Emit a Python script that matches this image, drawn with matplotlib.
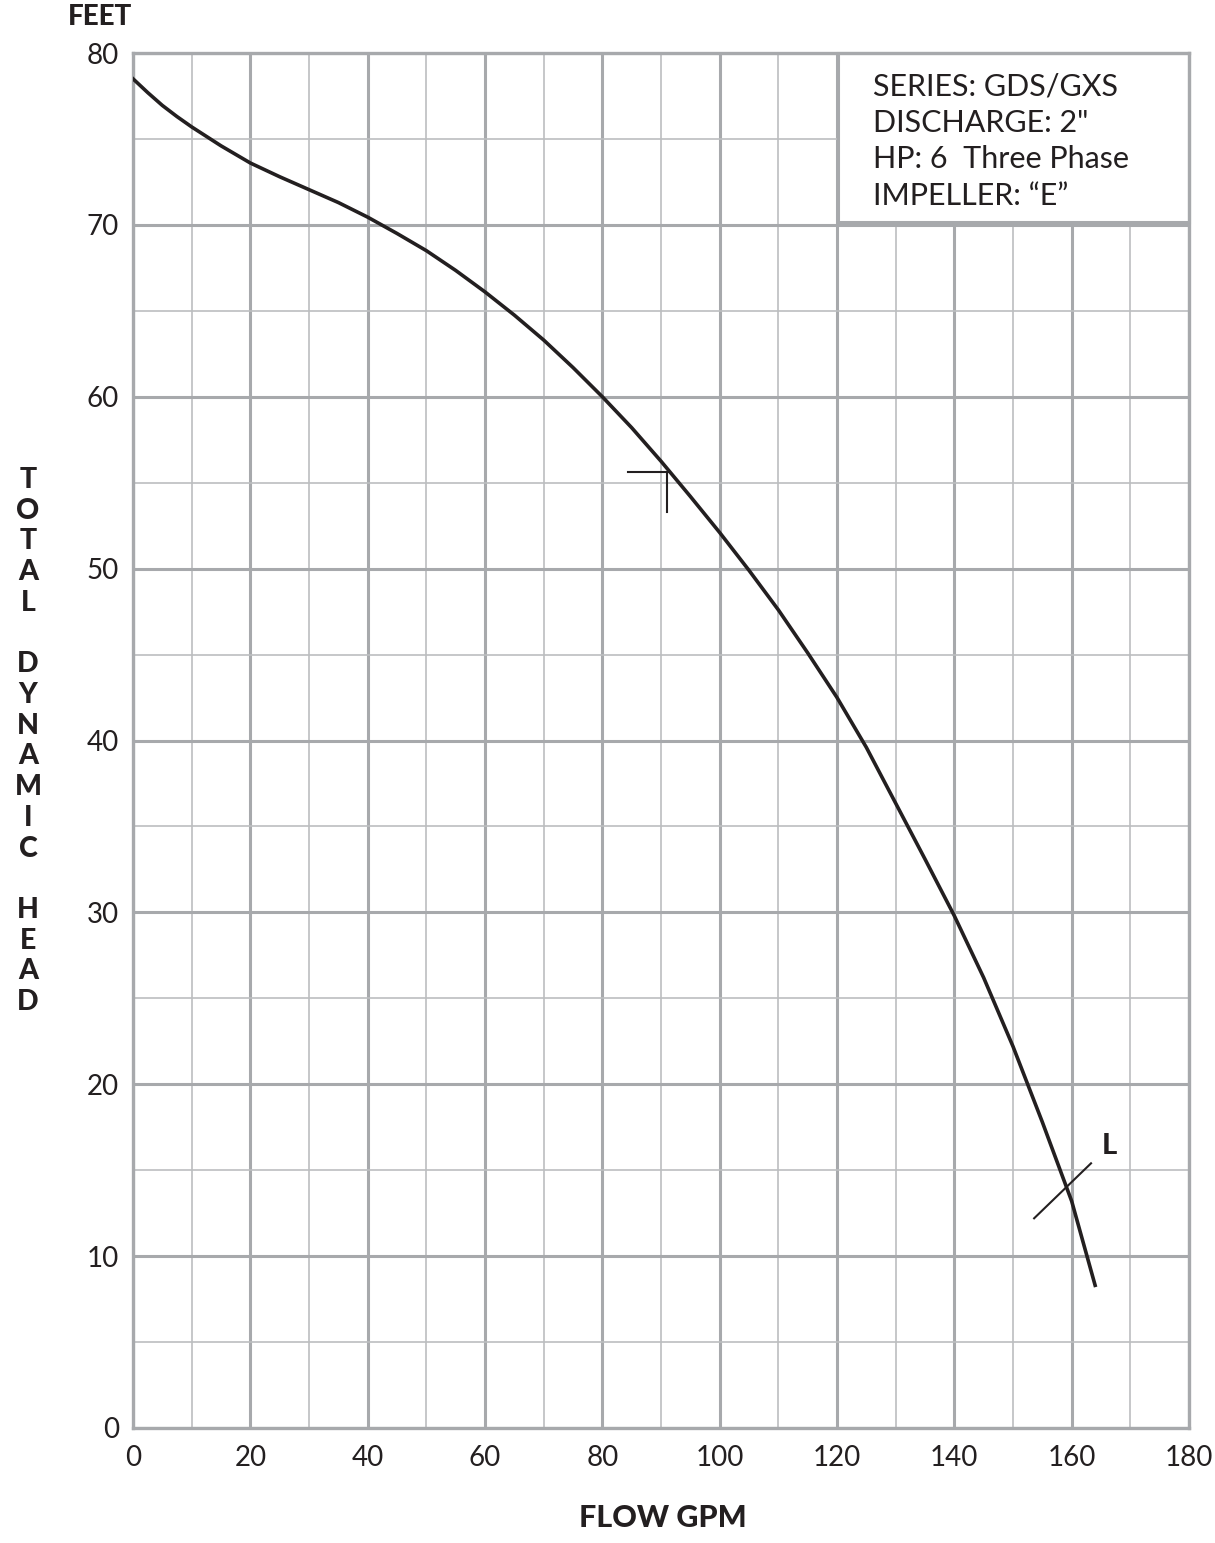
import matplotlib
matplotlib.use("Agg")
import matplotlib.pyplot as plt
from matplotlib.patches import Rectangle

plt.rcParams['font.family'] = ['Lato', 'DejaVu Sans']

# ---- data ----
flow_gpm = [0, 2.5, 5, 7.5, 10, 15, 20, 25, 30, 35, 40, 45, 50, 55, 60, 65, 70, 75, 80,
            85, 90, 95, 100, 105, 110, 115, 120, 125, 130, 135, 140, 145, 150,
            155, 160, 164]
head_ft = [78.5, 77.7, 76.95, 76.3, 75.7, 74.6, 73.6, 72.8, 72.05, 71.3, 70.45, 69.5,
           68.5, 67.35, 66.1, 64.75, 63.3, 61.7, 60.0, 58.2, 56.25, 54.2, 52.1, 49.9,
           47.6, 45.1, 42.5, 39.6, 36.35, 33.1, 29.8, 26.2, 22.2, 17.8, 13.2, 8.3]

x_ticks = [0, 20, 40, 60, 80, 100, 120, 140, 160, 180]
y_ticks = [0, 10, 20, 30, 40, 50, 60, 70, 80]

# best efficiency marker (T) and L marker
bep_h_x = [84.4, 91.2]
bep_h_y = [55.6, 55.6]
bep_v_x = [91.1, 91.1]
bep_v_y = [55.6, 53.3]
l_x = [153.6, 163.3]
l_y = [12.2, 15.4]

info_lines = ['SERIES: GDS/GXS', 'DISCHARGE: 2"', 'HP: 6  Three Phase', 'IMPELLER: \u201cE\u201d']
y_label = 'TOTAL DYNAMIC HEAD'

GRID_MAJ = '#a7a9ac'
GRID_MIN = '#bcbec0'
INK = '#231f20'

fig = plt.figure(figsize=(12.15, 15.43), dpi=100)
ax = fig.add_axes([133/1215, (1543-1428)/1543, (1189-133)/1215, (1428-53)/1543])

ax.set_xlim(0, 180)
ax.set_ylim(0, 80)
ax.set_xticks(x_ticks)
ax.set_yticks(y_ticks)
ax.set_xticks(range(10, 180, 20), minor=True)
ax.set_yticks(range(5, 80, 10), minor=True)
ax.grid(which='major', color=GRID_MAJ, linewidth=2.2, zorder=0)
ax.grid(which='minor', color=GRID_MIN, linewidth=1.2, zorder=0)
ax.tick_params(which='both', length=0)
ax.tick_params(axis='x', pad=12, labelsize=20, colors=INK)
ax.tick_params(axis='y', pad=10, labelsize=20, colors=INK)
for s in ax.spines.values():
    s.set_color(GRID_MAJ)
    s.set_linewidth(2.4)
ax.set_axisbelow(True)

# info box
ax.add_patch(Rectangle((120.2, 70.15), 180 - 120.2, 80 - 70.15, facecolor='white',
                       edgecolor=GRID_MAJ, linewidth=2.2, zorder=2, clip_on=False))
ax.text(126.1, 78.85, '\n'.join(info_lines), fontsize=22, color=INK, va='top',
        ha='left', linespacing=1.36, zorder=3)

# curve
ax.plot(flow_gpm, head_ft, color=INK, linewidth=2.6, zorder=4)
ax.plot(bep_h_x, bep_h_y, color=INK, linewidth=1.5, zorder=4)
ax.plot(bep_v_x, bep_v_y, color=INK, linewidth=1.5, zorder=4)
ax.plot(l_x, l_y, color=INK, linewidth=1.5, zorder=4)
ax.text(166.5, 16.4, 'L', fontsize=21, fontweight=900, color=INK,
        ha='center', va='center', zorder=4)

# labels
fig.text(100/1215, 1 - 17/1543, 'FEET', fontsize=20, fontweight=900, color=INK,
         ha='center', va='center')
fig.text(663/1215, 1 - 1518/1543, 'FLOW GPM', fontsize=22, fontweight=900, color=INK,
         ha='center', va='center')
fig.text(28/1215, 1 - 741/1543, '\n'.join(list(y_label)), fontsize=20.5,
         fontweight=900, color=INK, ha='center', va='center', linespacing=1.225)

fig.savefig('out.png', dpi=100, facecolor='white')
